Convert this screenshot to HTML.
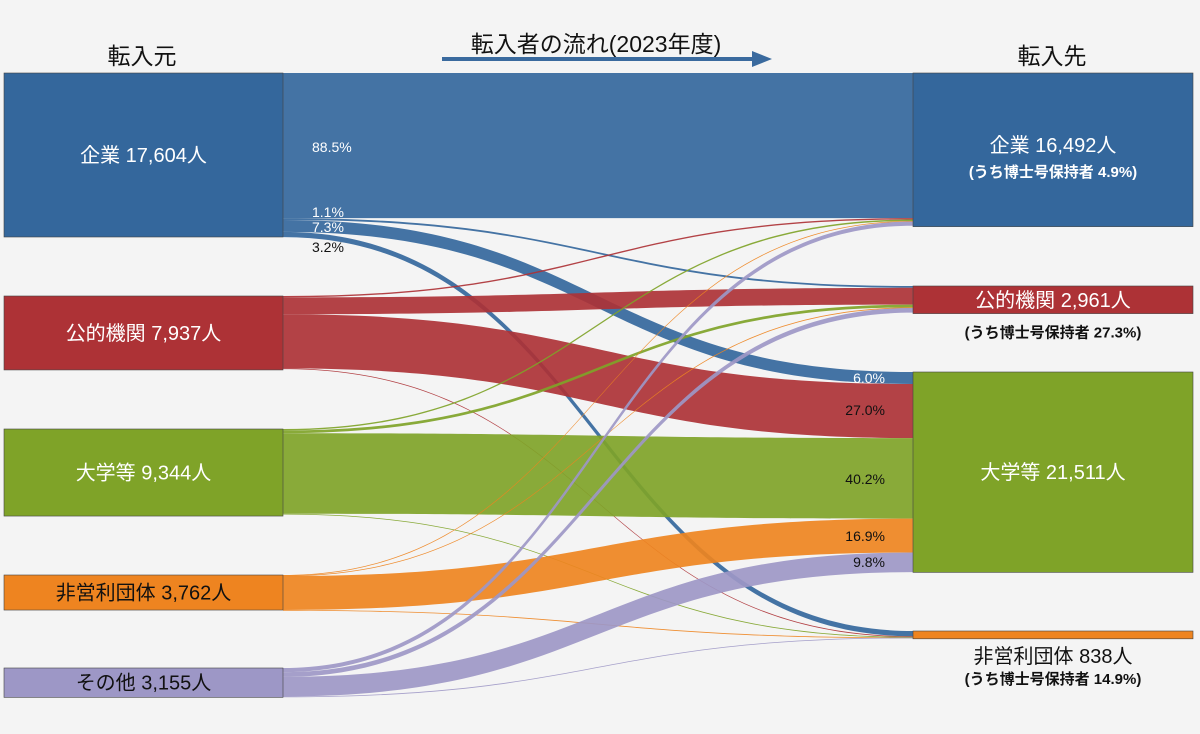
<!DOCTYPE html>
<html><head><meta charset="utf-8">
<style>
body{margin:0;background:#f4f4f4;}
svg{display:block;font-family:"Liberation Sans","Noto Sans CJK JP",sans-serif;}
</style></head>
<body>
<svg id="chart" width="1200" height="734" viewBox="0 0 1200 734">
<rect width="1200" height="734" fill="#f4f4f4"/>
<g id="links"></g>
<g id="nodes"></g>
<g id="labels"></g>
<text x="142" y="64" font-size="23" text-anchor="middle" fill="#111">転入元</text>
<text x="1052" y="64" font-size="23" text-anchor="middle" fill="#111">転入先</text>
<text x="596" y="52" font-size="23" text-anchor="middle" fill="#111">転入者の流れ(2023年度)</text>
<g>
<rect x="442" y="57" width="312" height="4" fill="#3a6a9e"/>
<polygon points="752,51 772,59 752,67" fill="#3a6a9e"/>
</g>
</svg>
<script>
const sources = ["企業 17,604人","公的機関 7,937人","大学等 9,344人","非営利団体 3,762人","その他 3,155人"];
const sourceTotals = [17604,7937,9344,3762,3155];
const targets = ["企業 16,492人","公的機関 2,961人","大学等 21,511人","非営利団体 838人"];
const targetTotals = [16492,2961,21511,838];
const targetSub = ["(うち博士号保持者  4.9%)","(うち博士号保持者  27.3%)","","(うち博士号保持者  14.9%)"];
// flows[source][target]
const flowFromCompany = [15580,194,1285,563];
const flowFromPublic = [150,1807,5808,70];
const flowFromUniv = [150,300,8647,60];
const flowFromNonprofit = [60,60,3635,7];
const flowFromOther = [450,500,2108,20];
const flows = [flowFromCompany,flowFromPublic,flowFromUniv,flowFromNonprofit,flowFromOther];
const sourcePctLabels = [["88.5%","1.1%","7.3%","3.2%"]];
const targetPctLabels = ["6.0%","27.0%","40.2%","16.9%","9.8%"];

const colors = ["#34679c","#ad3236","#7fa328","#ee8420","#9d97c6"];
const tColors = ["#34679c","#ad3236","#7fa328","#ee8420"];
const scale = 164/17604;
const sTop = [73,296,429,575,668];
const tTop = [73,286,372,631];
const xL0=4,xL1=283,xR0=913,xR1=1193;
const NS="http://www.w3.org/2000/svg";
function mk(tag,attrs,parent){const e=document.createElementNS(NS,tag);for(const k in attrs)e.setAttribute(k,attrs[k]);parent.appendChild(e);return e;}
const gL=document.getElementById('links'),gN=document.getElementById('nodes'),gT=document.getElementById('labels');

const sOff=sTop.slice(), tOff=tTop.slice();
const srcY=[],tgtY=[];
for(let s=0;s<5;s++){srcY[s]=[];for(let t=0;t<4;t++){srcY[s][t]=sOff[s];sOff[s]+=flows[s][t]*scale;}}
for(let t=0;t<4;t++){for(let s=0;s<5;s++){tgtY[s]=tgtY[s]||[];tgtY[s][t]=tOff[t];tOff[t]+=flows[s][t]*scale;}}
const xm=(xL1+xR0)/2;
for(let s=0;s<5;s++)for(let t=0;t<4;t++){
  const h=Math.max(flows[s][t]*scale,0.8);
  const y0=srcY[s][t],y1=tgtY[s][t];
  const d=`M${xL1},${y0} C${xm},${y0} ${xm},${y1} ${xR0},${y1} L${xR0},${y1+h} C${xm},${y1+h} ${xm},${y0+h} ${xL1},${y0+h} Z`;
  const p=mk('path',{d:d,fill:colors[s],'fill-opacity':0.92},gL);
  
  
}
for(let s=0;s<5;s++){
  const h=sourceTotals[s]*scale;
  const r=mk('rect',{x:xL0,y:sTop[s],width:xL1-xL0,height:h,fill:colors[s],stroke:'#444','stroke-width':0.6},gN);
  
  
  const tx=mk('text',{x:(xL0+xL1)/2,y:sTop[s]+h/2+7,'font-size':20,'text-anchor':'middle',fill:s===3||s===4?'#111':'#fff'},gT);
  tx.textContent=sources[s];
  
  
}
for(let t=0;t<4;t++){
  const h=targetTotals[t]*scale;
  const r=mk('rect',{x:xR0,y:tTop[t],width:xR1-xR0,height:h,fill:tColors[t],stroke:'#444','stroke-width':0.6},gN);
  
  
  let ly=tTop[t]+h/2+7, col='#fff', sy=null;
  if(t===0){ly=tTop[t]+h/2+2;sy=ly+25;}
  if(t===1){ly=tTop[t]+h/2+7;sy=tTop[t]+h+24;}
  if(t===3){ly=tTop[t]+h+24;col='#111';sy=ly+21;}
  const tx=mk('text',{x:(xR0+xR1)/2,y:ly,'font-size':20,'text-anchor':'middle',fill:col},gT);
  tx.textContent=targets[t];
  
  
  if(targetSub[t]){
    const st=mk('text',{x:(xR0+xR1)/2,y:sy,'font-size':15,'font-weight':'bold','text-anchor':'middle',fill:t===0?'#fff':'#111'},gT);
    st.textContent=targetSub[t];
    
    
  }
}
const pcs=sourcePctLabels[0];
const pcY=[147,212,227,247];
for(let t=0;t<4;t++){
  const tx=mk('text',{x:312,y:pcY[t]+5,'font-size':14,fill:t===3?'#111':'#fff'},gT);
  tx.textContent=pcs[t];
  
  
}
const tlY=[378,410,479,536,562];
for(let s=0;s<5;s++){
  const tx=mk('text',{x:885,y:tlY[s]+5,'font-size':14,'text-anchor':'end',fill:s===0?'#fff':'#111'},gT);
  tx.textContent=targetPctLabels[s];
  
  
}
</script>
</body></html>
